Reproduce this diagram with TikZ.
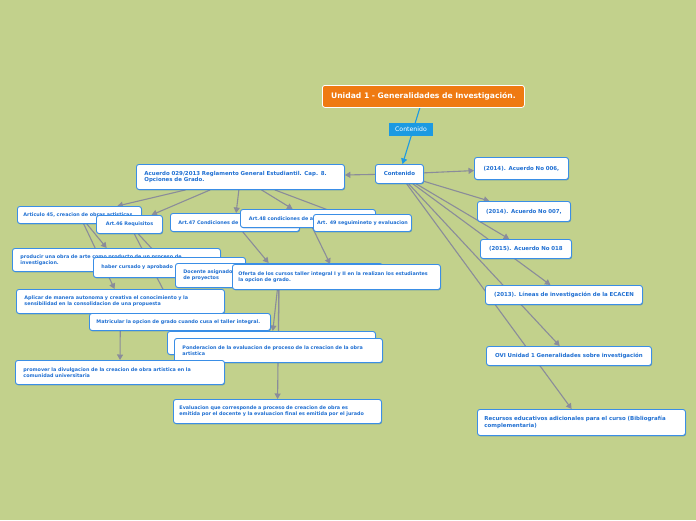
\documentclass[tikz,border=0pt]{standalone}
\usepackage{fontspec}
\setmainfont{DejaVu Sans}
\usetikzlibrary{arrows.meta,shadows}
\definecolor{bgc}{HTML}{C2D18C}
\definecolor{bordblue}{HTML}{3A8EE6}
\definecolor{txtblue}{HTML}{1F6FD2}
\definecolor{edgegray}{HTML}{8A8C9A}
\definecolor{rootorange}{HTML}{EF7A12}
\definecolor{labblue}{HTML}{1C9AE2}
\pgfdeclarelayer{bg}
\pgfdeclarelayer{edges}
\pgfsetlayers{bg,edges,main}
\tikzset{
  box/.style={draw=bordblue, line width=0.9pt, fill=white, rounded corners=2.5pt,
    anchor=north west, inner xsep=0pt, inner ysep=0pt, text=txtblue,
    drop shadow={shadow xshift=0.6pt, shadow yshift=-0.9pt, fill=bordblue!80!black, opacity=0.55}},
  big/.style={box, font=\bfseries\fontsize{5.45}{6.8}\selectfont},
  small/.style={box, font=\bfseries\fontsize{4.85}{6.0}\selectfont},
  lft/.style={align=left},
  ctr/.style={align=center},
  edge/.style={draw=edgegray, line width=1.1pt, -{Triangle[length=5.5pt,width=6pt]}},
  rootbox/.style={draw=white, line width=0.8pt, fill=rootorange, rounded corners=2.5pt,
    anchor=north west, inner sep=0pt, text=white, font=\bfseries\fontsize{7.6}{8.5}\selectfont,
    minimum width=202pt, minimum height=22pt},
  labbox/.style={fill=labblue, text=white, inner sep=0pt, minimum width=44pt, minimum height=13pt,
    font=\fontsize{6.2}{7}\selectfont},
}
\begin{document}
\begin{tikzpicture}[x=1pt,y=-1pt]
\begin{pgfonlayer}{bg}
\fill[bgc] (0,0) rectangle (696,520);
\end{pgfonlayer}
\useasboundingbox (0,0) rectangle (696,520);

% root and level 1
\node[rootbox] (root) at (322,85) {Unidad 1 - Generalidades de Investigación.};
\node[big, ctr, minimum width=48pt, minimum height=19pt, text width=46pt] (cont) at (375,164) {Contenido};
\node[big, lft, minimum width=208pt, minimum height=25pt, text width=192pt] (acu) at (136,164)
  {Acuerdo 029/2013 Reglamento General Estudiantil. Cap. 8.\\Opciones de Grado.};
\node[big, ctr, minimum width=94pt, minimum height=22pt, text width=90pt] (a006) at (474,157) {(2014). Acuerdo No 006,};
\node[big, ctr, minimum width=93pt, minimum height=20pt, text width=89pt] (a007) at (477,201) {(2014). Acuerdo No 007,};
\node[big, ctr, minimum width=91pt, minimum height=19pt, text width=87pt] (a018) at (480,239) {(2015). Acuerdo No 018};
\node[big, ctr, minimum width=157pt, minimum height=19pt, text width=153pt] (lin) at (485,285) {(2013). Líneas de investigación de la ECACEN};
\node[big, ctr, minimum width=165pt, minimum height=19pt, text width=161pt] (ovi) at (486,346) {OVI Unidad 1 Generalidades sobre investigación};
\node[big, lft, minimum width=208pt, minimum height=26pt, text width=194pt] (rec) at (477,409)
  {Recursos educativos adicionales para el curso (Bibliografía\\complementaria)};

% articles
\node[small, lft, minimum width=124pt, minimum height=17pt, text width=112pt] (art45) at (17,206) {Articulo 45, creacion de obras artisticas};
\node[small, ctr, minimum width=66pt, minimum height=18pt, text width=62pt] (art46) at (96,215) {Art.46 Requisitos};
\node[small, lft, minimum width=129pt, minimum height=18pt, text width=113pt] (art47) at (170,213) {Art.47 Condiciones de};
\node[small, lft, minimum width=135pt, minimum height=18pt, text width=118pt] (art48) at (240,209) {Art.48 condiciones de a};
\node[small, ctr, minimum width=98pt, minimum height=17pt, text width=96pt] (art49) at (313,214) {Art. 49 seguimineto y evaluacion};

% details
\node[small, lft, minimum width=208pt, minimum height=23pt, text width=192pt] (prod) at (12,248)
  {producir una obra de arte como producto de un proceso de\\investigacion.};
\node[small, lft, minimum width=152pt, minimum height=20pt, text width=136pt] (hab) at (93,257) {haber cursado y aprobado};
\node[small, lft, minimum width=207pt, minimum height=24pt, text width=191pt] (doc) at (175,263) {Docente asignado\\de proyectos};
\node[small, lft, minimum width=208pt, minimum height=25pt, text width=196pt] (ofe) at (232,264)
  {Oferta de los cursos taller integral I y II en la realizan los estudiantes\\la opcion de grado.};
\node[small, lft, minimum width=208pt, minimum height=24pt, text width=192pt] (apl) at (16,289)
  {Aplicar de manera autonoma y creativa el conocimiento y la\\sensibilidad en la consolidacion de una propuesta};
\node[small, lft, minimum width=181pt, minimum height=17pt, text width=167pt] (mat) at (89,313) {Matricular la opcion de grado cuando cusa el taller integral.};
\node[small, minimum width=208pt, minimum height=23pt] (hid) at (167,331) {};
\node[small, lft, minimum width=208pt, minimum height=24pt, text width=192pt] (pon) at (174,338)
  {Ponderacion de la evaluacion de proceso de la creacion de la obra\\artistica};
\node[small, lft, minimum width=209pt, minimum height=24pt, text width=193pt] (pro) at (15,360)
  {promover la divulgacion de la creacion de obra artistica en la\\comunidad universitaria};
\node[small, lft, minimum width=208pt, minimum height=24pt, text width=196pt] (eva) at (173,399)
  {Evaluacion que corresponde a proceso de creacion de obra es\\emitida por el docente y la evaluacion final es emitida por el jurado};

\node[labbox] (lab) at (411,129.5) {Contenido};

\begin{pgfonlayer}{edges}
\draw[draw=labblue, line width=1.1pt, -{Triangle[length=5.5pt,width=6pt]}] (root) -- (cont);
\draw[edge] (cont) -- (acu);
\draw[edge] (cont) -- (a006);
\draw[edge] (cont) -- (a007);
\draw[edge] (cont) -- (a018);
\draw[edge] (cont) -- (lin);
\draw[edge] (cont) -- (ovi);
\draw[edge] (cont) -- (rec);
\draw[edge] (acu) -- (art45);
\draw[edge] (acu) -- (art46);
\draw[edge] (acu) -- (art47);
\draw[edge] (acu) -- (art48);
\draw[edge] (acu) -- (art49);
\draw[edge] (art45) -- (prod);
\draw[edge] (art45) -- (apl);
\draw[edge] (apl) -- (pro);
\draw[edge] (art46) -- (hab);
\draw[edge] (art46) -- (mat);
\draw[edge] (art47) -- (doc);
\draw[edge] (art48) -- (ofe);
\draw[edge] (doc) -- (hid);
\draw[edge] (doc) -- (pon);
\draw[edge] (doc) -- (eva);
\end{pgfonlayer}
\end{tikzpicture}
\end{document}
